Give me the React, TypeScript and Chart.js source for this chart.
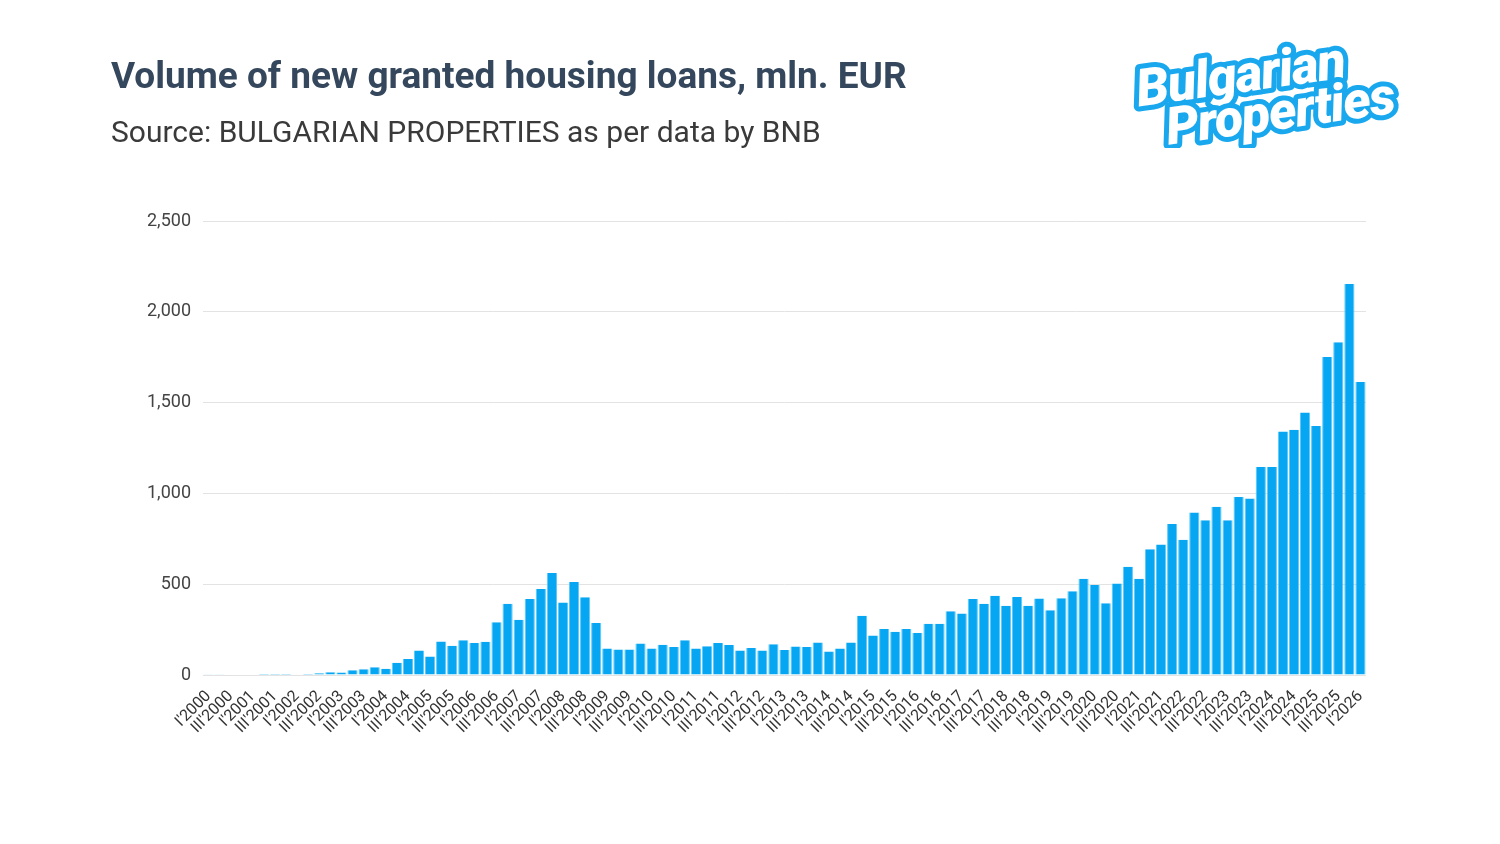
import { useEffect, useRef } from "react"
import Chart from "chart.js/auto"

// quarters I'2000 .. I'2026
const years = Array.from({ length: 27 }, (_, i) => 2000 + i)
const romans = ["I", "II", "III", "IV"]
const labels: string[] = years.flatMap((y) => romans.map((q) => `${q}'${y}`)).slice(0, 105)

// new granted housing loans, mln. EUR
const loans2000to2008 = [
  2, 2, 3, 3, 3, 6, 6, 6, 3, 5, 10, 15, 14, 26, 31, 42, 35, 68, 88, 135, 102, 185, 161, 192, 176, 183, 291, 393,
  304, 419, 474, 562, 399, 512, 428, 287,
]
const loans2009to2016 = [
  146, 141, 141, 174, 146, 167, 154, 192, 146, 159, 176, 165, 135, 148, 135, 170, 137, 157, 154, 179, 130, 146,
  179, 326, 218, 253, 238, 253, 231, 282, 282, 351,
]
const loans2017to2026 = [
  339, 419, 393, 437, 381, 430, 382, 421, 356, 423, 461, 530, 496, 395, 504, 596, 530, 692, 718, 832, 745, 895,
  852, 926, 852, 980, 972, 1146, 1146, 1341, 1350, 1445, 1371, 1751, 1832, 2153, 1614,
]
const values = [...loans2000to2008, ...loans2009to2016, ...loans2017to2026]

const yTicks = [0, 500, 1000, 1500, 2000, 2500]

export default function App() {
  const chartRef = useRef<HTMLCanvasElement>(null)
  const chartInstance = useRef<Chart | null>(null)

  useEffect(() => {
    document.body.style.margin = "0"
    if (!chartRef.current) return
    if (chartInstance.current) chartInstance.current.destroy()

    const ctx = chartRef.current.getContext("2d")
    if (!ctx) return
    chartInstance.current = new Chart(ctx, {
      type: "bar",
      data: {
        labels,
        datasets: [
          {
            label: "Volume",
            data: values,
            backgroundColor: "#06a6f2",
            borderColor: "#5cc8f8",
            borderWidth: { left: 1, right: 1, top: 0, bottom: 0 },
            barPercentage: 0.92,
            categoryPercentage: 1,
          },
        ],
      },
      options: {
        animation: false,
        responsive: true,
        maintainAspectRatio: false,
        layout: { padding: { left: 143, right: 134, top: 221, bottom: 80 } },
        plugins: {
          legend: { display: false },
          tooltip: { enabled: false },
        },
        scales: {
          x: {
            grid: { display: false },
            border: { display: false },
            ticks: {
              autoSkip: false,
              maxRotation: 45,
              minRotation: 45,
              padding: 4,
              color: "#333",
              font: { family: "Roboto", size: 16 },
              callback: (_v, i) => (i % 2 === 0 ? labels[i] : ""),
            },
            afterFit: (scale) => {
              scale.height = 89
            },
          },
          y: {
            min: 0,
            max: 2500,
            afterBuildTicks: (scale) => {
              scale.ticks = yTicks.map((v) => ({ value: v }))
            },
            grid: { color: "#e3e3e3", drawTicks: false },
            border: { display: false },
            ticks: {
              padding: 12,
              color: "#444",
              font: { family: "Roboto", size: 18 },
              callback: (v) => Number(v).toLocaleString("en-US"),
            },
            afterFit: (scale) => {
              scale.width = 60
            },
          },
        },
      },
    })

    return () => {
      if (chartInstance.current) {
        chartInstance.current.destroy()
        chartInstance.current = null
      }
    }
  }, [])

  return (
    <div style={{ position: "relative", width: 1500, height: 844, background: "#fff", fontFamily: "Roboto" }}>
      <div style={{ position: "absolute", inset: 0 }}>
        <canvas ref={chartRef} />
      </div>
      <div
        style={{
          position: "absolute",
          left: 111,
          top: 54,
          fontSize: 37,
          fontWeight: 700,
          color: "#34475c",
          whiteSpace: "nowrap",
        }}
      >
        Volume of new granted housing loans, mln. EUR
      </div>
      <div
        style={{
          position: "absolute",
          left: 111,
          top: 114,
          fontSize: 30,
          color: "#3a3a3a",
          whiteSpace: "nowrap",
        }}
      >
        Source: BULGARIAN PROPERTIES as per data by BNB
      </div>
      <svg style={{ position: "absolute", left: 1125, top: 18 }} width={320} height={130}>
        <g transform="rotate(-8 160 65)" fontFamily="Roboto" fontWeight={900} fontStyle="italic">
          <text
            x={12}
            y={68}
            fontSize={52}
            fill="#fff"
            stroke="#19a7ee"
            strokeWidth={10}
            strokeLinejoin="round"
            paintOrder="stroke"
            letterSpacing={-1}
          >
            Bulgarian
          </text>
          <text
            x={36}
            y={110}
            fontSize={52}
            fill="#fff"
            stroke="#19a7ee"
            strokeWidth={10}
            strokeLinejoin="round"
            paintOrder="stroke"
            letterSpacing={-1}
          >
            Properties
          </text>
        </g>
      </svg>
    </div>
  )
}
